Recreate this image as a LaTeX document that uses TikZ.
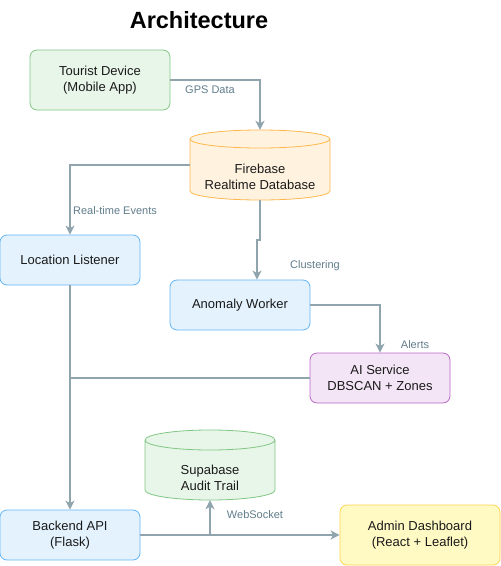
\documentclass[tikz,border=0pt]{standalone}
\usepackage{fontspec}
\setmainfont{Liberation Sans}
\usetikzlibrary{arrows.meta}
\definecolor{gfill}{HTML}{E8F5E9}\definecolor{gline}{HTML}{81C784}
\definecolor{bfill}{HTML}{E3F2FD}\definecolor{bline}{HTML}{64B5F6}
\definecolor{ofill}{HTML}{FFF3E0}\definecolor{oline}{HTML}{FFB74D}
\definecolor{pfill}{HTML}{F3E5F5}\definecolor{pline}{HTML}{BA68C8}
\definecolor{yfill}{HTML}{FFF9C4}\definecolor{yline}{HTML}{FFD54F}
\definecolor{edge}{HTML}{90A4AE}\definecolor{elab}{HTML}{607D8B}
\definecolor{txt}{HTML}{1A1A1A}
\tikzset{
  box/.style={rounded corners=7pt, line width=0.8pt, align=center, text=txt,
    font=\fontsize{13}{16}\selectfont, inner sep=0pt},
  gbox/.style={box, draw=gline, fill=gfill},
  bbox/.style={box, draw=bline, fill=bfill},
  pbox/.style={box, draw=pline, fill=pfill},
  ybox/.style={box, draw=yline, fill=yfill},
  cyltext/.style={align=center, text=txt, font=\fontsize{13}{16}\selectfont, inner sep=0pt},
  conn/.style={draw=edge, line width=1.6pt, -{Stealth[length=9pt,width=9pt,inset=2.5pt]}},
  plain/.style={draw=edge, line width=1.6pt},
  elabel/.style={text=elab, font=\fontsize{11}{13}\selectfont, inner sep=0pt},
}
\begin{document}
\begin{tikzpicture}[x=1pt,y=-1pt]
\useasboundingbox (0,0) rectangle (501,566);
\node[font=\fontsize{23.5}{26}\selectfont\bfseries, inner sep=0pt] (title) at (199,20) {Architecture};

% boxes
\node[gbox, minimum width=140pt, minimum height=60pt] (tour) at (100,80) {Tourist Device\\(Mobile App)};
\node[bbox, minimum width=140pt, minimum height=50pt] (loc) at (70,260) {Location Listener};
\node[bbox, minimum width=140pt, minimum height=50pt] (anom) at (240,305) {Anomaly Worker};
\node[pbox, minimum width=140pt, minimum height=50pt] (ai) at (380,378) {AI Service\\DBSCAN + Zones};
\node[bbox, minimum width=140pt, minimum height=50pt] (api) at (70,535) {Backend API\\(Flask)};
\node[ybox, minimum width=160pt, minimum height=60pt] (admin) at (420,535) {Admin Dashboard\\(React + Leaflet)};

% Firebase cylinder
\fill[ofill] (190,139) -- (190,191) arc[start angle=180,end angle=0,x radius=70,y radius=9] -- (330,139) arc[start angle=0,end angle=-180,x radius=70,y radius=9] -- cycle;
\draw[oline, line width=0.8pt] (190,139) -- (190,191) arc[start angle=180,end angle=0,x radius=70,y radius=9] -- (330,139) arc[start angle=0,end angle=-180,x radius=70,y radius=9] arc[start angle=180,end angle=0,x radius=70,y radius=9];
\node[cyltext, minimum width=140pt, minimum height=70pt] (fb) at (260,165) {};
\node[cyltext] (fbt) at (260,177) {Firebase\\Realtime Database};

% Supabase cylinder
\fill[gfill] (145,440) -- (145,490) arc[start angle=180,end angle=0,x radius=65,y radius=10] -- (275,440) arc[start angle=0,end angle=-180,x radius=65,y radius=10] -- cycle;
\draw[gline, line width=0.8pt] (145,440) -- (145,490) arc[start angle=180,end angle=0,x radius=65,y radius=10] -- (275,440) arc[start angle=0,end angle=-180,x radius=65,y radius=10] arc[start angle=180,end angle=0,x radius=65,y radius=10];
\node[cyltext, minimum width=130pt, minimum height=70pt] (sb) at (210,465) {};
\node[cyltext] (sbt) at (210,478) {Supabase\\Audit Trail};

% connectors
\draw[conn] (tour.east) -| (fb.north);
\node[elabel] (l1) at (210,90) {GPS Data};
\draw[conn] (fb.west) -| (loc.north);
\node[elabel] (l2) at (115,211) {Real-time Events};
\coordinate (j1) at (260,240);
\coordinate (j2) at (257,240);
\draw[conn] (fb.south) -- (j1) -- (j2) -- (anom.north -| j2);
\node[elabel] (l3) at (315,266) {Clustering};
\draw[conn] (anom.east) -| (ai.north);
\node[elabel] (l4) at (415,345) {Alerts};
\coordinate (j3) at (70,378);
\draw[plain] (ai.west) -- (j3);
\draw[conn] (loc.south) -- (api.north);
\coordinate (j4) at (210,535);
\draw[conn] (api.east) -- (admin.west);
\draw[conn] (j4) -- (sb.south);
\node[elabel] (l5) at (255,515) {WebSocket};
\end{tikzpicture}
\end{document}
